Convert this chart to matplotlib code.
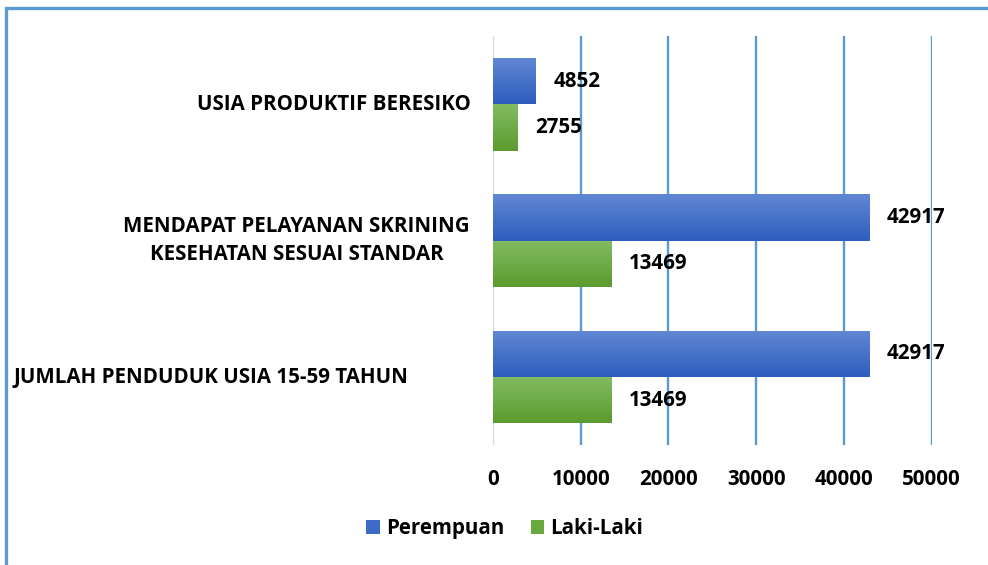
import matplotlib
matplotlib.use("Agg")
import matplotlib.pyplot as plt
import matplotlib.transforms as mtransforms
from matplotlib.patches import Rectangle
from matplotlib.colors import LinearSegmentedColormap
import numpy as np

# data (bottom to top, like the chart)
categories = ["JUMLAH PENDUDUK USIA 15-59 TAHUN",
              "MENDAPAT PELAYANAN SKRINING\nKESEHATAN SESUAI STANDAR",
              "USIA PRODUKTIF BERESIKO"]
perempuan = [42917, 42917, 4852]
laki_laki = [13469, 13469, 2755]
xticks = [0, 10000, 20000, 30000, 40000, 50000]

BLUE = "#3D6BC6"
GREEN = "#68A83E"
GRID = "#5B9BD5"
blue_grad = LinearSegmentedColormap.from_list("b", ["#2E5DBE", "#6188D4"])
green_grad = LinearSegmentedColormap.from_list("g", ["#5C9B2F", "#82BB60"])

plt.rcParams['font.family'] = ['Open Sans', 'DejaVu Sans']
plt.rcParams['font.weight'] = 'bold'
FS = 14.8

fig = plt.figure(figsize=(9.88, 5.65), dpi=100)
ax = fig.add_axes([0.499, 0.212, 0.444, 0.724])

y = np.arange(len(categories))
h = 0.34
bars_p = ax.barh(y + h/2, perempuan, height=h, color=BLUE, label="Perempuan", zorder=3)
bars_l = ax.barh(y - h/2, laki_laki, height=h, color=GREEN, label="Laki-Laki", zorder=3)

# vertical gradient on each bar, like the Excel fill
grad = np.linspace(0, 1, 100).reshape(-1, 1)
for bars, cmap in [(bars_p, blue_grad), (bars_l, green_grad)]:
    for b in bars:
        x0, y0 = b.get_x(), b.get_y()
        im = ax.imshow(grad, cmap=cmap, aspect='auto', origin='lower',
                       extent=[x0, x0 + b.get_width(), y0, y0 + b.get_height()], zorder=4)
        im.set_clip_path(b)

# value labels
for i in range(len(categories)):
    ax.text(perempuan[i] + 2000, y[i] + h/2, str(perempuan[i]), va='center', ha='left',
            fontsize=FS, fontweight='bold')
    ax.text(laki_laki[i] + 2000, y[i] - h/2, str(laki_laki[i]), va='center', ha='left',
            fontsize=FS, fontweight='bold')

ax.set_xlim(0, 50000)
ax.set_ylim(-0.5, 2.5)
ax.set_xticks(xticks)
ax.set_xticklabels([str(t) for t in xticks], fontsize=FS, fontweight='bold')
ax.tick_params(axis='x', length=0, pad=17)
ax.set_yticks([])
for s in ax.spines.values():
    s.set_visible(False)
for t in xticks[1:]:
    ax.axvline(t, color=GRID, lw=1.7, zorder=1)
ax.axvline(0, color="#D9D9D9", lw=1.7, zorder=1)

# category labels (Excel places them a bit unevenly)
trans = mtransforms.blended_transform_factory(fig.transFigure, ax.transData)
label_x = [0.213, 0.300, 0.338]
for i, cat in enumerate(categories):
    ax.text(label_x[i], y[i], cat, transform=trans, ha='center', va='center',
            fontsize=FS, fontweight='bold', linespacing=1.45)

fig.legend(loc='center', bbox_to_anchor=(0.511, 0.064), ncol=2, frameon=False,
           fontsize=FS, handlelength=0.65, handleheight=0.65, columnspacing=1.3,
           handletextpad=0.3)

# outer frame (only left and top visible)
fig.patches.append(Rectangle((0.006, -0.5), 2, 1.486, transform=fig.transFigure,
                             fill=False, edgecolor=GRID, lw=2.4, zorder=0))

fig.savefig("out.png", dpi=100)
